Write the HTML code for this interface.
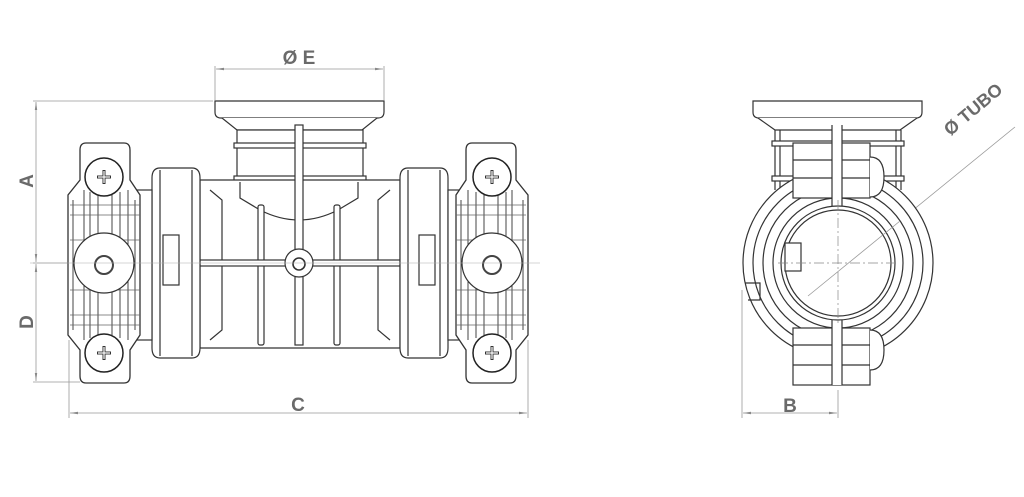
<!DOCTYPE html>
<html><head><meta charset="utf-8"><style>
html,body{margin:0;padding:0;background:#fff;}
svg{display:block;}
text{font-family:"Liberation Sans",sans-serif;font-weight:bold;fill:#6a6a6a;font-size:19px;}
</style></head><body>
<svg width="1024" height="497" viewBox="0 0 1024 497" xmlns="http://www.w3.org/2000/svg">
<defs>
<marker id="ar" viewBox="0 0 10 6" refX="10" refY="3" markerWidth="10" markerHeight="6" orient="auto-start-reverse"><path d="M0,1.5 L10,3 L0,4.5 Z" fill="#888"/></marker>
<g id="clamp">
<path d="M86,143 H124 Q130,143 130,150 V180 L140,195 V335 L130,350 V376 Q130,383 124,383 H86 Q80,383 80,376 V350 L68,335 V195 L80,180 V150 Q80,143 86,143 Z" fill="#fff" stroke="#333" stroke-width="1.3"/>
<path d="M73,200 V330 M84,190 V340 M90,192 V240 M90,288 V338 M98,192 V240 M98,288 V338 M112,192 V240 M112,288 V338 M120,192 V240 M120,288 V338 M128,190 V340 M135,200 V330" stroke="#444" stroke-width="1" fill="none"/>
<path d="M70,205 H140 M70,215 H140 M70,240 H140 M70,290 H140 M70,315 H140 M70,325 H140" stroke="#666" stroke-width="0.8"/>
<circle cx="104" cy="177" r="19" fill="#fff" stroke="#222" stroke-width="1.5"/>
<circle cx="104" cy="353" r="19" fill="#fff" stroke="#222" stroke-width="1.5"/>
<path d="M104,170 V184 M97,177 H111 M104,346 V360 M97,353 H111" stroke="#333" stroke-width="3"/>
<path d="M104,171 V183 M98,177 H110 M104,347 V359 M98,353 H110" stroke="#fff" stroke-width="1.2"/>
<circle cx="104" cy="263" r="30" fill="#fff" stroke="#333" stroke-width="1.2"/>
<circle cx="104" cy="265" r="9" fill="none" stroke="#444" stroke-width="2"/>
</g>
</defs>
<g stroke="#999" stroke-width="0.8" fill="none">
<line x1="215" y1="66" x2="215" y2="100"/><line x1="384" y1="66" x2="384" y2="100"/>
<line x1="216" y1="69" x2="383" y2="69" marker-start="url(#ar)" marker-end="url(#ar)"/>
<line x1="33" y1="101" x2="213" y2="101"/>
<line x1="36" y1="102" x2="36" y2="262" marker-start="url(#ar)" marker-end="url(#ar)"/>
<line x1="33" y1="263" x2="80" y2="263"/>
<line x1="36" y1="264" x2="36" y2="381" marker-start="url(#ar)" marker-end="url(#ar)"/>
<line x1="33" y1="382" x2="80" y2="382"/>
<line x1="69" y1="340" x2="69" y2="418"/><line x1="528" y1="340" x2="528" y2="418"/>
<line x1="70" y1="413" x2="527" y2="413" marker-start="url(#ar)" marker-end="url(#ar)"/>
<line x1="742" y1="290" x2="742" y2="418"/><line x1="838" y1="390" x2="838" y2="418"/>
<line x1="743" y1="413" x2="837" y2="413" marker-start="url(#ar)" marker-end="url(#ar)"/>
<line x1="805" y1="298" x2="1015" y2="127"/>
</g>
<text x="299" y="64" text-anchor="middle">Ø E</text>
<text x="298" y="411" text-anchor="middle">C</text>
<text x="790" y="412" text-anchor="middle">B</text>
<text transform="translate(33,181) rotate(-90)" text-anchor="middle">A</text>
<text transform="translate(33,322) rotate(-90)" text-anchor="middle">D</text>
<text transform="translate(977,114) rotate(-40)" text-anchor="middle" style="font-size:18px">Ø TUBO</text>

<g stroke="#333" stroke-width="1.2" fill="#fff">
<path d="M215,101 H384 V112 Q384,118 378,118 H221 Q215,118 215,112 Z"/>
<path d="M222,118 L237,130 H362 L377,118"/>
<rect x="237" y="130" width="126" height="50"/>
<rect x="234" y="143" width="132" height="5"/>
<rect x="234" y="176" width="132" height="6"/>
<path d="M200,180 H400 V348 H200 Z"/>
<path d="M240,182 V198 L260,210 Q299,230 338,210 L358,198 V182" fill="none"/>
<path d="M210,190 L222,200 V330 L210,340 M390,190 L378,200 V330 L390,340" fill="none"/>
<rect x="258" y="205" width="6" height="140" rx="2"/>
<rect x="334" y="205" width="6" height="140" rx="2"/>
<rect x="295" y="125" width="8" height="220"/>
<rect x="200" y="260" width="200" height="6"/>
<circle cx="299" cy="263" r="14"/>
<circle cx="299" cy="264" r="6" fill="none" stroke-width="1.6"/>
<path d="M152,178 Q152,168 160,168 H192 Q200,168 200,178 V348 Q200,358 192,358 H160 Q152,358 152,348 Z"/>
<path d="M160,170 V356 M192,170 V356" fill="none"/>
<rect x="163" y="235" width="16" height="50"/>
<path d="M400,178 Q400,168 408,168 H440 Q448,168 448,178 V348 Q448,358 440,358 H408 Q400,358 400,348 Z"/>
<path d="M408,170 V356 M440,170 V356" fill="none"/>
<rect x="419" y="235" width="16" height="50"/>
<rect x="130" y="190" width="22" height="150" fill="#fff"/>
<rect x="448" y="190" width="22" height="150" fill="#fff"/>
</g>
<use href="#clamp"/>
<use href="#clamp" transform="translate(596,0) scale(-1,1)"/>
<line x1="30" y1="263" x2="540" y2="263" stroke="#aaa" stroke-width="0.6"/>

<g stroke="#333" stroke-width="1.2" fill="#fff">
<path d="M753,101 H922 V112 Q922,118 916,118 H759 Q753,118 753,112 Z"/>
<path d="M758,118 L775,130 H900 L917,118"/>
<path d="M775,130 V190 M780,130 V190 M896,130 V190 M901,130 V190" fill="none"/>
<rect x="772" y="141" width="132" height="5"/>
<rect x="772" y="176" width="132" height="5"/>
<circle cx="838" cy="263" r="95"/>
<circle cx="838" cy="263" r="85" fill="none"/>
<circle cx="838" cy="263" r="75" fill="none"/>
<circle cx="838" cy="263" r="65" fill="none"/>
<rect x="793" y="143" width="77" height="55"/>
<rect x="793" y="328" width="77" height="57"/>
<path d="M793,160 H870 M793,178 H870 M793,345 H870 M793,365 H870" fill="none"/>
<path d="M870,157 Q884,157 884,177 Q884,197 870,197"/>
<path d="M870,330 Q884,330 884,350 Q884,370 870,370"/>
<rect x="832" y="125" width="10" height="260" fill="#fff" stroke="none"/>
<path d="M832,125 V385 M842,125 V385" fill="none"/>
<circle cx="838" cy="263" r="57"/>
<circle cx="838" cy="263" r="53" fill="none"/>
<rect x="785" y="243" width="16" height="28"/>
<path d="M745,283 H760 V300 H748" fill="none"/>
</g>
<g stroke="#888" stroke-width="0.7" stroke-dasharray="10,3,2,3">
<line x1="778" y1="263" x2="898" y2="263"/><line x1="838" y1="200" x2="838" y2="325"/>
</g>
<line x1="808" y1="296" x2="900" y2="221" stroke="#999" stroke-width="0.8"/>
</svg>
</body></html>
